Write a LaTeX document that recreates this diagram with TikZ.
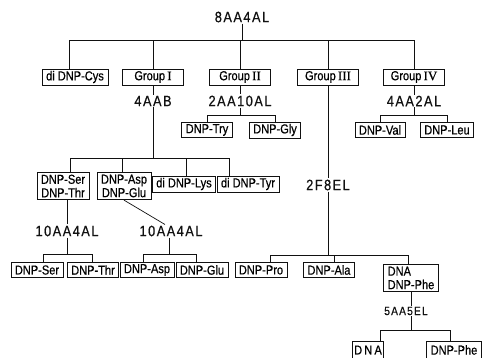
\documentclass[tikz,border=0pt]{standalone}
\usepackage{fontspec}
\newfontfamily\fuenteCaja[FakeStretch=0.85,FakeBold=0.6]{Liberation Sans}
\newfontfamily\fuenteEtiq[LetterSpace=10,FakeStretch=0.85,FakeBold=0.6]{Liberation Sans}
\newfontfamily\fuenteRom[FakeBold=0.6]{Liberation Serif}
\definecolor{tinta}{HTML}{111111}
\newcommand{\grupoRom}[1]{Group\,{\fuenteRom #1}}
\tikzset{
  caja/.style={draw=tinta,line width=0.7pt,inner xsep=4pt,inner ysep=2pt,
    minimum height=15pt,font=\fuenteCaja\fontsize{13}{13.5}\selectfont},
  cajaGrupo/.style={caja,minimum width=61pt},
  cajaDoble/.style={caja,align=center,inner ysep=2.5pt},
  etiq/.style={inner sep=1pt,text=tinta,font=\fuenteEtiq\fontsize{15}{16}\selectfont},
  linea/.style={draw=tinta,line width=0.7pt}
}

\begin{document}
\begin{tikzpicture}[x=1pt,y=-1pt]
  \useasboundingbox[fill=white] (0,0) rectangle (483,357);
  % nivel superior
  \node[etiq] (lbl8) at (242,17) {8AA4AL};
  \node[caja]      (cys) at (75,77)  {di DNP-Cys};
  \node[cajaGrupo] (g1)  at (153,77) {\grupoRom{I}};
  \node[cajaGrupo] (g2)  at (240,77) {\grupoRom{II}};
  \node[cajaGrupo] (g3)  at (328,77) {\grupoRom{III}};
  \node[cajaGrupo] (g4)  at (414,77) {\grupoRom{IV}};
  \coordinate (barra0) at (242,40);
  \draw[linea] (lbl8) -- (barra0);
  \draw[linea] ([xshift=-6pt]cys.north) |- (g4.north |- barra0) -- (g4.north);
  \foreach \g in {g1,g2,g3} \draw[linea] (\g.north) -- (\g.north |- barra0);
  % grupo I
  \node[etiq] (lbl4aab) at (153,101) {4AAB};
  \node[cajaDoble] (sertr)  at (63,186)  {DNP-Ser\\DNP-Thr};
  \node[cajaDoble] (aspglu) at (124,186) {DNP-Asp\\DNP-Glu};
  \node[caja,minimum height=14pt] (lys) at (184,184) {di DNP-Lys};
  \node[caja,minimum height=14pt] (tyr) at (248,184) {di DNP-Tyr};
  \coordinate (barra1) at (153,158);
  \draw[linea] (g1) -- (lbl4aab);
  \draw[linea] (lbl4aab) -- (barra1);
  \draw[linea] ([xshift=7pt]sertr.north) |- ([xshift=-19pt]tyr.north |- barra1) -- ([xshift=-19pt]tyr.north);
  \draw[linea] ([xshift=-2pt]aspglu.north |- barra1) -- ([xshift=-2pt]aspglu.north);
  \draw[linea] ([xshift=2pt]lys.north |- barra1) -- ([xshift=2pt]lys.north);
  \node[etiq] (lbl10a) at (67,231)  {10AA4AL};
  \node[etiq] (lbl10b) at (171,231) {10AA4AL};
  \draw[linea] (sertr.south -| lbl10a) -- (lbl10a);
  \draw[linea] (aspglu.south) -- ([xshift=-6pt]lbl10b.north);
  \node[caja] (ser) at (37,270)  {DNP-Ser};
  \node[caja] (thr) at (93,270)  {DNP-Thr};
  \node[caja] (asp) at (147,270) {DNP-Asp};
  \node[caja] (glu) at (202,270) {DNP-Glu};
  \coordinate (barra5) at (67,254);
  \coordinate (barra6) at (169,254);
  \draw[linea] (lbl10a) -- (barra5);
  \draw[linea] ([xshift=6pt]ser.north) |- ([xshift=-1pt]thr.north |- barra5) -- ([xshift=-1pt]thr.north);
  \draw[linea] (lbl10b.south -| barra6) -- (barra6);
  \draw[linea] ([xshift=-4pt]asp.north) |- ([xshift=-6pt]glu.north |- barra6) -- ([xshift=-6pt]glu.north);
  % grupo II
  \node[etiq] (lbl2aa) at (240,101) {2AA10AL};
  \node[caja] (try) at (207,130) {DNP-Try};
  \node[caja] (gly) at (275,130) {DNP-Gly};
  \coordinate (barra2) at (240,115);
  \draw[linea] (g2) -- (lbl2aa);
  \draw[linea] (lbl2aa) -- (barra2);
  \draw[linea] (try.north) |- (gly.north |- barra2) -- (gly.north);
  % grupo IV
  \node[etiq] (lbl4aa2) at (414,101) {4AA2AL};
  \node[caja] (val) at (380,130) {DNP-Val};
  \node[caja] (leu) at (447,130) {DNP-Leu};
  \coordinate (barra4) at (414,115);
  \draw[linea] (g4) -- (lbl4aa2);
  \draw[linea] (lbl4aa2) -- (barra4);
  \draw[linea] (val.north) |- (leu.north |- barra4) -- (leu.north);
  % grupo III
  \node[etiq] (lbl2f) at (328,185) {2F8EL};
  \node[caja] (pro) at (261,270) {DNP-Pro};
  \node[caja] (ala) at (329,270) {DNP-Ala};
  \node[caja,align=left,inner ysep=2.5pt] (dnaphe) at (411,278) {DNA\\DNP-Phe};
  \coordinate (barra3) at (328,255);
  \draw[linea] (g3) -- (lbl2f);
  \draw[linea] (lbl2f) -- (barra3);
  \draw[linea] ([xshift=9pt]pro.north) |- ([xshift=-3pt]dnaphe.north |- barra3) -- ([xshift=-3pt]dnaphe.north);
  \draw[linea] ([xshift=5pt]ala.north |- barra3) -- ([xshift=5pt]ala.north);
  \node[etiq,font=\fuenteEtiq\fontsize{12}{13}\selectfont] (lbl5) at (406,311) {5AA5EL};
  \node[caja,inner xsep=2pt,minimum height=18pt] (dna) at (368,350) {D\,N\,A};
  \node[caja,minimum height=18pt] (phe2) at (454,350) {DNP-Phe};
  \coordinate (barra7) at (411,330);
  \draw[linea] (dnaphe.south) -- (dnaphe.south |- lbl5.north);
  \draw[linea] (lbl5.south -| barra7) -- (barra7);
  \draw[linea] ([xshift=12pt]dna.north) |- ([xshift=-4pt]phe2.north |- barra7) -- ([xshift=-4pt]phe2.north);
\end{tikzpicture}
\end{document}
